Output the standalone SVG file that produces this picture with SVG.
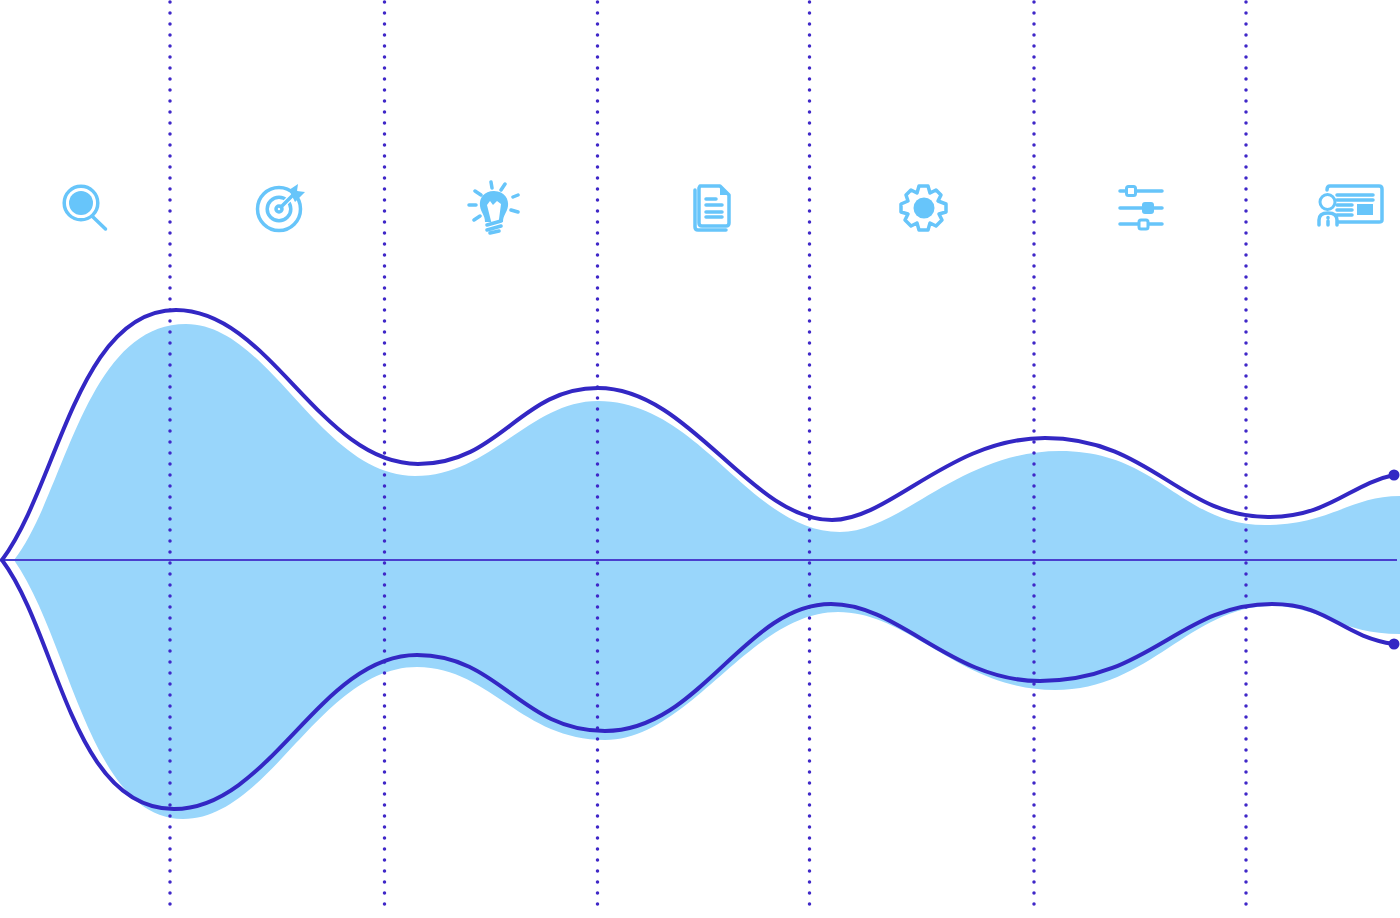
<svg xmlns="http://www.w3.org/2000/svg" width="1400" height="918" viewBox="0 0 1400 918">
<style>
.grid{fill:none;stroke:#3f27c8;stroke-width:3.500;stroke-linecap:round;stroke-dasharray:0 11}
.curve{fill:none;stroke:#3327c4;stroke-width:4;stroke-linecap:round;stroke-linejoin:round}
.ic{fill:none;stroke:#67c5fa;stroke-width:3.500;stroke-linecap:round;stroke-linejoin:round}
.if{fill:#67c5fa;stroke:none}
.dot{fill:#3327c4}
</style>
<rect width="1400" height="918" fill="#fff"/>
<path id="band" fill="#99d6fb" d="M14,560C65,495 85,324 186,324C270,324 320,476 415,476C490,476 530,401 598,401C700,401 750,532 840,532C900,532 960,451 1060,451C1160,451 1180,525 1265,525C1330,525 1350,496 1400,496V634C1340,634 1320,606 1272,606C1190,606 1150,690 1055,690C960,690 910,612 838,612C750,612 690,740 605,740C520,740 490,667 417,667C320,667 270,819 183,819C90,819 70,640 14,560Z"/>
<g id="connectors">
<path class="grid" d="M170,2V911"/>
<path class="grid" d="M384.500,2V911"/>
<path class="grid" d="M597.500,2V911"/>
<path class="grid" d="M809.500,2V911"/>
<path class="grid" d="M1034,2V911"/>
<path class="grid" d="M1246,2V911"/>
<path d="M2,560H1397" fill="none" stroke="#4a3fce" stroke-width="2"/>
<path class="curve" d="M2,560C58,485 78,310 176,310C270,310 320,464 418,464C500,464 520,388 598,388C690,388 750,520 832,520C890,520 950,438 1045,438C1150,438 1180,517 1268,517C1330,517 1350,484 1394,475"/>
<path class="curve" d="M2,560C58,635 72,809 174,809C270,809 320,655 417,655C500,655 520,731 605,731C700,731 745,604 831,604C900,604 950,681 1040,681C1150,681 1180,604 1272,604C1330,604 1340,636 1394,644"/>
<circle class="dot" cx="1394" cy="475" r="5.500"/>
<circle class="dot" cx="1394" cy="644" r="5.500"/>
</g>
<g id="icon-search">
<circle class="ic" cx="81" cy="203" r="16.800"/>
<circle class="if" cx="81" cy="203" r="12"/>
<path class="ic" d="M93,217L105.500,229"/>
</g>
<g id="icon-target">
<circle class="ic" cx="279" cy="209" r="21.500" stroke-width="3"/>
<circle class="ic" cx="279" cy="209" r="11.800" stroke-width="8"/>
<circle class="ic" cx="279" cy="209" r="3" stroke-width="3"/>
<path d="M284,204L296,192" fill="none" stroke="#fff" stroke-width="6"/>
<path class="ic" d="M281,207L296,192" stroke-width="2.500"/>
<path class="if" d="M289,190L298,184L297,191L305,192L295,202Z"/>
</g>
<g id="icon-bulb">
<path class="if" d="M494,191C505,191 509,200 508,206C507,213 503,215 503,222L485,222C485,215 481,213 480,206C479,198 484,191 494,191Z"/>
<path d="M487,205L490,201L493,205L497,201L501,204L498.500,223L491.500,223Z" fill="#fff"/>
<path class="ic" d="M491,182L492,188M505,184L501,190M513,197L518,195M511,210L518,212M475,191L481,195M469,205L476,205M474,220L480,216M487,225L501,221M487,230L501,226M490,233L499,231" stroke-width="3"/>
</g>
<g id="icon-doc">
<path class="ic" d="M695,190V227C695,229 696,230 698,230H726"/>
<path class="ic" d="M700,186H720L729,195V223C729,225 728,226 726,226H702C700,226 699,225 699,223V188Z"/>
<path class="if" d="M720,186L729,195H720Z"/>
<path class="ic" d="M706,199H716M706,205H722M706,212H722M706,217H722" stroke-width="2.800"/>
</g>
<g id="icon-gear">
<path class="ic" d="M919,186H928L930,193L936,190L941,195L938,201L946,204V212L939,214L942,220L936,226L930,223L928,230H919L917,223L911,226L905,220L908,214L901,212V204L908,201L906,195L911,190L917,193Z" stroke-width="3"/>
<circle class="if" cx="924" cy="208" r="10.500"/>
</g>
<g id="icon-sliders">
<path class="ic" d="M1120,191H1162M1120,208H1162M1120,224H1162" stroke-width="3"/>
<rect x="1126.500" y="186.500" width="9" height="9" rx="2" fill="#fff" stroke="#67c5fa" stroke-width="3"/>
<rect x="1142" y="202" width="12" height="12" rx="3" fill="#67c5fa"/>
<rect x="1139" y="220" width="9" height="9" rx="2" fill="#fff" stroke="#67c5fa" stroke-width="3"/>
</g>
<g id="icon-card">
<path class="ic" d="M1327,190C1327,187 1328,186 1330,186H1379C1381,186 1382,187 1382,189V220C1382,222 1381,222 1379,222H1338" stroke-width="3"/>
<path class="ic" d="M1337,195H1373M1337,200H1373M1337,205H1352M1337,210H1352M1337,215H1352" stroke-width="1.500"/>
<rect x="1357" y="204" width="16" height="11" fill="#67c5fa"/>
<circle cx="1327.500" cy="202" r="7.500" fill="#fff" stroke="#67c5fa" stroke-width="3"/>
<path class="ic" d="M1319,225V220C1319,215 1323,213 1328,213C1333,213 1337,215 1337,220V225" stroke-width="2.500"/>
<path class="ic" d="M1328,217.500V218M1328,221V225" stroke-width="2"/>
</g>
</svg>
